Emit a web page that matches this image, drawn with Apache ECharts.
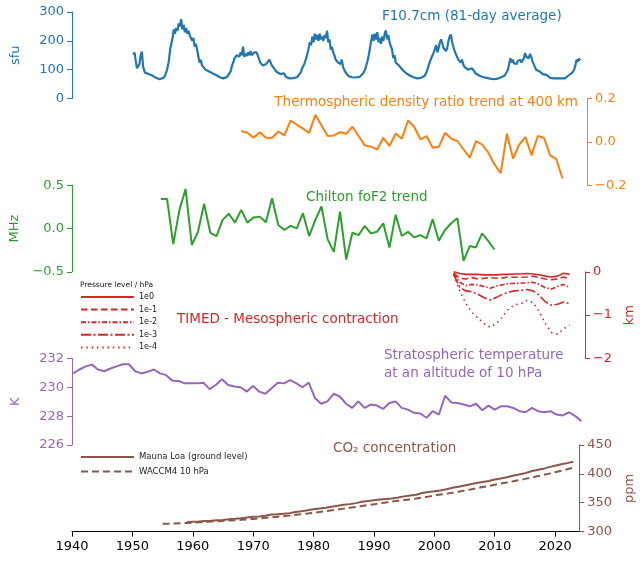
<!DOCTYPE html>
<html><head><meta charset="utf-8">
<script src="https://cdn.jsdelivr.net/npm/echarts@6/dist/echarts.min.js"></script>
<style>html,body{margin:0;padding:0;background:#fff}#c{width:644px;height:561px}</style>
</head><body><div id="c"></div>
<script>
// ---------- data ----------
const xTicks = [1940, 1950, 1960, 1970, 1980, 1990, 2000, 2010, 2020];

// F10.7 cm solar flux, 81-day average [year, sfu]
const f107 = [[1950.0,152],[1950.2,160],[1950.4,130],[1950.6,105],[1950.8,100],[1951.0,120],[1951.2,150],[1951.4,163],[1951.6,110],[1951.9,90],[1952.2,95],[1952.5,85],[1952.8,88],[1953.1,80],[1953.4,76],[1953.7,72],[1954.0,68],[1954.3,67],[1954.6,70],[1954.9,72],[1955.2,80],[1955.5,100],[1955.8,130],[1956.0,170],[1956.2,175],[1956.4,210],[1956.6,240],[1956.8,225],[1957.0,245],[1957.2,235],[1957.4,260],[1957.6,250],[1957.8,275],[1958.0,240],[1958.2,255],[1958.4,230],[1958.6,245],[1958.8,225],[1959.0,235],[1959.2,220],[1959.4,225],[1959.6,200],[1959.8,210],[1960.0,180],[1960.2,190],[1960.4,170],[1960.6,165],[1960.8,125],[1961.0,135],[1961.2,115],[1961.5,120],[1961.8,100],[1962.0,105],[1962.3,95],[1962.6,98],[1962.9,88],[1963.2,85],[1963.5,82],[1963.8,80],[1964.1,74],[1964.4,71],[1964.7,70],[1965.0,72],[1965.3,75],[1965.6,80],[1965.9,95],[1966.1,115],[1966.3,125],[1966.5,140],[1966.7,135],[1966.9,150],[1967.1,148],[1967.3,145],[1967.5,160],[1967.7,150],[1967.9,180],[1968.1,145],[1968.3,155],[1968.5,148],[1968.7,160],[1968.9,150],[1969.1,165],[1969.3,150],[1969.5,145],[1969.7,160],[1969.9,155],[1970.1,160],[1970.3,150],[1970.5,145],[1970.7,125],[1970.9,130],[1971.1,115],[1971.4,110],[1971.7,120],[1972.0,125],[1972.2,135],[1972.4,130],[1972.6,115],[1972.9,110],[1973.1,100],[1973.4,92],[1973.7,95],[1974.0,85],[1974.3,82],[1974.6,88],[1974.9,75],[1975.2,72],[1975.5,70],[1975.8,72],[1976.1,71],[1976.4,72],[1976.7,74],[1977.0,78],[1977.3,90],[1977.6,108],[1977.9,120],[1978.2,140],[1978.5,165],[1978.8,195],[1979.0,185],[1979.2,215],[1979.4,195],[1979.6,225],[1979.8,205],[1980.0,220],[1980.2,200],[1980.4,225],[1980.6,205],[1980.8,215],[1981.0,200],[1981.2,220],[1981.4,210],[1981.6,235],[1981.8,195],[1982.0,205],[1982.2,170],[1982.4,180],[1982.6,160],[1982.8,150],[1983.0,135],[1983.2,140],[1983.4,125],[1983.6,130],[1983.8,120],[1984.0,135],[1984.2,110],[1984.5,95],[1984.8,85],[1985.1,78],[1985.4,75],[1985.7,74],[1986.0,72],[1986.3,73],[1986.6,72],[1986.9,75],[1987.2,80],[1987.5,88],[1987.8,100],[1988.0,115],[1988.2,130],[1988.4,150],[1988.6,175],[1988.8,200],[1989.0,222],[1989.2,200],[1989.4,225],[1989.6,205],[1989.8,230],[1990.0,195],[1990.2,210],[1990.4,190],[1990.6,215],[1990.8,200],[1991.0,225],[1991.2,236],[1991.4,205],[1991.6,220],[1991.8,195],[1992.0,200],[1992.2,170],[1992.4,140],[1992.6,150],[1992.8,125],[1993.0,130],[1993.3,115],[1993.6,118],[1993.9,100],[1994.2,95],[1994.5,88],[1994.8,85],[1995.1,80],[1995.4,76],[1995.7,74],[1996.0,72],[1996.3,70],[1996.6,71],[1996.9,72],[1997.2,75],[1997.5,78],[1997.8,90],[1998.1,110],[1998.4,130],[1998.6,140],[1998.8,135],[1999.0,160],[1999.2,165],[1999.4,185],[1999.6,160],[1999.8,175],[2000.0,195],[2000.2,205],[2000.4,190],[2000.6,175],[2000.8,180],[2001.0,165],[2001.2,175],[2001.4,200],[2001.6,215],[2001.8,222],[2002.0,195],[2002.2,180],[2002.4,165],[2002.6,155],[2002.8,145],[2003.0,135],[2003.2,130],[2003.4,125],[2003.6,135],[2003.8,120],[2004.0,110],[2004.3,105],[2004.6,100],[2004.9,95],[2005.2,105],[2005.5,98],[2005.8,88],[2006.1,82],[2006.4,80],[2006.7,78],[2007.0,75],[2007.3,74],[2007.6,72],[2007.9,70],[2008.2,69],[2008.5,68],[2008.8,67],[2009.1,68],[2009.4,69],[2009.7,70],[2010.0,74],[2010.3,78],[2010.6,80],[2010.9,85],[2011.1,100],[2011.3,120],[2011.5,140],[2011.7,125],[2011.9,135],[2012.1,122],[2012.3,128],[2012.5,120],[2012.7,130],[2012.9,125],[2013.1,135],[2013.3,125],[2013.5,130],[2013.7,140],[2013.9,158],[2014.1,145],[2014.3,150],[2014.5,140],[2014.7,155],[2014.9,145],[2015.1,130],[2015.3,125],[2015.5,110],[2015.7,100],[2015.9,105],[2016.2,95],[2016.5,90],[2016.8,85],[2017.1,80],[2017.4,82],[2017.7,78],[2018.0,72],[2018.3,70],[2018.6,70],[2018.9,71],[2019.2,70],[2019.5,69],[2019.8,70],[2020.1,71],[2020.4,70],[2020.7,74],[2021.0,80],[2021.3,85],[2021.6,90],[2021.9,100],[2022.1,115],[2022.3,135],[2022.5,128],[2022.7,138],[2022.9,133]];

// Thermospheric density ratio trend at 400 km (annual, evenly spaced)
const densFirst = 1967.6, densLast = 2020.0;
const densVals = [0.050,0.042,0.019,0.045,0.019,0.019,0.047,0.030,0.099,0.080,0.061,0.042,0.125,0.076,0.027,0.030,0.045,0.038,0.070,0.027,-0.016,-0.022,-0.035,0.019,-0.019,0.039,0.015,0.099,0.070,0.012,0.027,-0.027,-0.022,0.042,0.015,0.004,-0.035,-0.073,0.004,-0.012,-0.050,-0.104,-0.145,0.038,-0.077,-0.012,0.022,-0.062,0.027,0.019,-0.062,-0.080,-0.169];

// Chilton foF2 trend (MHz)
const fof2First = 1954.5, fof2Last = 2008.9;
const fof2Vals = [0.34,0.34,-0.18,0.215,0.455,-0.19,-0.04,0.285,-0.05,-0.087,0.10,0.17,0.068,0.215,0.068,0.126,0.137,0.072,0.35,0.04,-0.017,0.03,0.002,0.177,-0.087,0.10,0.254,-0.126,-0.27,0.195,-0.358,-0.049,-0.076,0.029,-0.056,-0.037,0.06,-0.219,0.157,-0.087,-0.037,-0.102,-0.076,-0.114,0.107,-0.142,-0.017,0.06,0.119,-0.374,-0.203,-0.219,-0.056,-0.142,-0.242];

// TIMED mesospheric contraction (km) per pressure level
const timedFirst = 2002.5, timedLast = 2021.5;
const timed1e0 = [0,-0.04,-0.06,-0.06,-0.06,-0.07,-0.07,-0.07,-0.06,-0.06,-0.05,-0.05,-0.04,-0.05,-0.07,-0.10,-0.12,-0.10,-0.035,-0.06];
const timed1e1 = [-0.03,-0.15,-0.166,-0.135,-0.166,-0.15,-0.135,-0.15,-0.14,-0.125,-0.125,-0.125,-0.12,-0.104,-0.135,-0.166,-0.18,-0.166,-0.12,-0.166];
const timed1e2 = [-0.04,-0.24,-0.32,-0.29,-0.305,-0.34,-0.38,-0.33,-0.30,-0.27,-0.27,-0.265,-0.25,-0.243,-0.29,-0.367,-0.397,-0.34,-0.29,-0.367];
const timed1e3 = [-0.06,-0.36,-0.44,-0.46,-0.52,-0.60,-0.65,-0.59,-0.52,-0.47,-0.44,-0.43,-0.41,-0.44,-0.54,-0.69,-0.77,-0.75,-0.70,-0.73];
const timed1e4 = [-0.07,-0.44,-0.73,-0.94,-1.07,-1.20,-1.28,-1.19,-1.04,-0.86,-0.76,-0.74,-0.66,-0.71,-0.92,-1.19,-1.40,-1.44,-1.32,-1.23];
const timedNames = ['1e0', '1e-1', '1e-2', '1e-3', '1e-4'];

// Stratospheric temperature at 10 hPa (K)
const tempFirst = 1940.2, tempLast = 2023.1;
const tempVals = [230.96,231.23,231.45,231.57,231.23,231.11,231.30,231.45,231.59,231.59,231.11,230.96,231.07,231.23,230.96,230.84,230.45,230.43,230.27,230.27,230.27,230.32,229.87,230.16,230.55,230.16,230.05,230.00,229.70,230.09,229.70,229.55,229.93,230.32,230.27,230.50,230.27,230.00,230.32,229.25,228.86,229.02,229.55,229.36,228.86,228.57,229.02,228.57,228.80,228.73,228.50,228.91,229.02,228.57,228.45,228.23,228.18,227.89,228.34,228.11,229.41,228.95,228.91,228.80,228.68,228.86,228.41,228.73,228.45,228.68,228.68,228.57,228.34,228.27,228.57,228.34,228.27,228.34,228.11,228.05,228.27,228.00,227.66];

// CO2 (ppm)
const mloFirstYear = 1959;
const mloVals = [316.0,316.9,317.6,318.5,319.0,319.6,320.0,321.4,322.2,323.1,324.6,325.7,326.3,327.5,329.7,330.2,331.1,332.0,333.8,335.4,336.8,338.8,340.1,341.5,343.2,344.9,346.4,347.6,349.3,351.7,353.2,354.5,355.7,356.5,357.2,359.0,361.0,362.7,363.9,366.8,368.5,369.7,371.3,373.5,376.0,377.7,380.0,382.1,384.0,385.8,387.6,390.1,391.9,394.1,396.7,398.8,401.0,404.4,406.8,408.7,411.7,414.2,416.5,418.6,421.1];
const wacFirstYear = 1955;
const wacVals = [313.5,313.8,314.2,314.6,315.0,315.5,316.0,316.6,317.3,317.9,318.5,319.1,319.7,320.4,321.2,322.0,322.9,323.8,324.7,325.8,326.7,327.8,329.0,330.1,331.3,332.6,334.0,335.4,336.8,338.3,339.8,341.3,342.8,344.4,345.9,347.4,349.0,350.6,352.0,353.4,354.6,355.8,357.2,358.8,360.6,362.4,364.1,365.7,367.4,369.2,371.1,373.0,375.0,377.1,379.1,381.1,383.2,385.2,387.1,389.2,391.3,393.5,395.7,398.0,400.4,402.9,405.4,408.0,410.6];

// ---------- helpers ----------
const spread = (vals, a, b) => vals.map((v, i) => [a + i * (b - a) / (vals.length - 1), v]);
const annual = (vals, y0) => vals.map((v, i) => [y0 + i, v]);

const C = {blue:'#1f77b4', orange:'#ff7f0e', green:'#2ca02c', red:'#d62728', purple:'#9467bd', brown:'#8c564b'};
const FONT = 'DejaVu Sans';
const uminus = s => String(s).replace('-', '\u2212');
const f1 = v => uminus(v.toFixed(1));
const f0 = v => uminus(String(v));

const gridTop = 12, gridH = 86.6;
const grids = [0,1,2,3,4,5].map(i => ({left: 72, right: 57, top: gridTop + i * gridH, height: gridH}));

function yAx(i, pos, color, min, max, interval, name, fmt, nameGap) {
  return {gridIndex: i, type: 'value', position: pos, min, max, interval,
    name, nameLocation: 'middle', nameGap, nameRotate: 90,
    nameTextStyle: {color, fontSize: 13, fontFamily: FONT},
    axisLine: {show: true, lineStyle: {color, width: 1}},
    axisTick: {show: true, inside: false, length: 5, lineStyle: {color, width: 1}},
    axisLabel: {color, fontSize: 13, fontFamily: FONT, margin: 8, formatter: fmt},
    splitLine: {show: false}};
}

const xAxes = [0,1,2,3,4,5].map(i => i < 5 ? {gridIndex: i, type: 'value', min: 1940, max: 2024, show: false} : {
  gridIndex: i, type: 'value', min: 1940, max: 2024,
  axisLine: {show: true, lineStyle: {color: '#000', width: 1}},
  axisTick: {show: true, inside: false, length: 5, customValues: xTicks, lineStyle: {color: '#000'}},
  axisLabel: {color: '#000', fontSize: 13, fontFamily: FONT, margin: 9, customValues: xTicks, formatter: v => String(v)},
  splitLine: {show: false}
});

const yAxes = [
  yAx(0, 'left', C.blue, 0, 300, 100, 'sfu', f0, 50),
  yAx(1, 'right', C.orange, -0.2, 0.2, 0.2, '', f1, 40),
  yAx(2, 'left', C.green, -0.5, 0.5, 0.5, 'MHz', f1, 50),
  yAx(3, 'right', C.red, -2, 0, 1, 'km', f0, 34),
  yAx(4, 'left', C.purple, 226, 232, 2, 'K', f0, 50),
  yAx(5, 'right', C.brown, 300, 450, 50, 'ppm', f0, 37)
];

const line = (name, idx, data, color, width, type) => ({
  name, type: 'line', xAxisIndex: idx, yAxisIndex: idx, data, symbol: 'none',
  lineStyle: {color, width, type: type || 'solid'}, itemStyle: {color}, silent: true, animation: false
});

const timedDash = ['solid', [6.5, 3.5], [5, 2, 1.5, 2], [10, 2.5, 2, 2.5], [1.5, 3.8]];
const timedData = [timed1e0, timed1e1, timed1e2, timed1e3, timed1e4];

const series = [
  line('F10.7', 0, f107, C.blue, 2.2),
  line('density', 1, spread(densVals, densFirst, densLast), C.orange, 2),
  line('foF2', 2, spread(fof2Vals, fof2First, fof2Last), C.green, 2),
  ...timedData.map((d, k) => line(timedNames[k], 3, spread(d, timedFirst, timedLast), C.red, 1.6, timedDash[k])),
  line('temp', 4, spread(tempVals, tempFirst, tempLast), C.purple, 2),
  line('Mauna Loa (ground level)', 5, annual(mloVals, mloFirstYear), C.brown, 2),
  line('WACCM4 10 hPa', 5, annual(wacVals, wacFirstYear), C.brown, 2, [7, 4])
];

const tt = (text, pos, color, size, extra) => Object.assign({text, padding: 0,
  textStyle: {color, fontSize: size, fontWeight: 'normal', fontFamily: FONT}}, pos, extra || {});

const titles = [
  tt('F10.7cm (81-day average)', {left: 382, top: 9}, C.blue, 13.5),
  tt('Thermospheric density ratio trend at 400 km', {right: 66, top: 95}, C.orange, 13.5),
  tt('Chilton foF2 trend', {left: 306, top: 190}, C.green, 13.5),
  tt('TIMED - Mesospheric contraction', {left: 177, top: 312}, C.red, 13.5),
  tt('Stratospheric temperature\nat an altitude of 10 hPa', {left: 384, top: 347}, C.purple, 13.5),
  tt('CO\u2082 concentration', {left: 333, top: 441}, C.brown, 13.5),
  tt('Pressure level / hPa', {left: 80, top: 281}, '#222', 7.5)
];
titles[4].textStyle.lineHeight = 17.5;

const legTxt = {fontSize: 8, color: '#222', fontFamily: FONT};
const legCommon = {orient: 'vertical', itemWidth: 53, itemHeight: 9, padding: 0, selectedMode: false,
  itemStyle: {opacity: 0}};
const legends = [
  Object.assign({data: timedNames, left: 80, top: 293, itemGap: 4.6, textStyle: legTxt}, legCommon),
  Object.assign({data: ['Mauna Loa (ground level)', 'WACCM4 10 hPa'], left: 80, top: 452.5, itemGap: 5.4,
    textStyle: Object.assign({}, legTxt, {fontSize: 8.5})}, legCommon)
];

const chart = echarts.init(document.getElementById('c'), null, {renderer: 'canvas'});
chart.setOption({
  backgroundColor: '#fff', animation: false,
  title: titles, legend: legends, grid: grids,
  xAxis: xAxes, yAxis: yAxes, series
});
</script></body></html>
